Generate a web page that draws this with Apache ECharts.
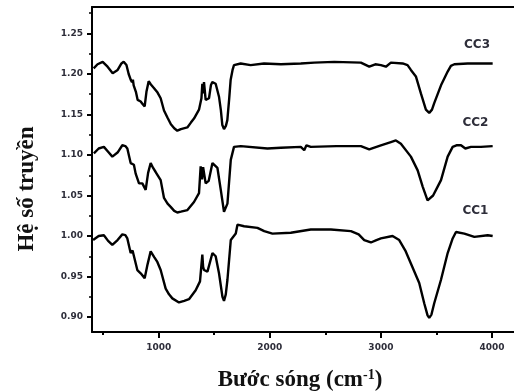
<!DOCTYPE html>
<html>
<head>
<meta charset="utf-8">
<script src="https://cdn.jsdelivr.net/npm/echarts@6/dist/echarts.min.js"></script>
<style>
  html, body { margin: 0; padding: 0; background: #fff; }
  #chart { width: 514px; height: 392px; }
</style>
</head>
<body>
<div id="chart"></div>
<script>
// wavenumber (cm-1), transmittance pairs
const cc3 = [
  [415,1.207],[450,1.212],[496,1.215],[540,1.209],[586,1.201],[631,1.205],[665,1.213],[685,1.215],
  [710,1.211],[730,1.200],[748,1.193],[760,1.190],[768,1.193],[775,1.186],[795,1.178],[811,1.168],
  [838,1.166],[855,1.163],[874,1.160],[890,1.178],[910,1.191],[930,1.187],[955,1.183],[990,1.177],
  [1018,1.170],[1048,1.155],[1080,1.146],[1110,1.138],[1140,1.133],[1168,1.130],[1200,1.132],
  [1258,1.134],[1290,1.140],[1318,1.145],[1363,1.156],[1385,1.170],[1393,1.188],[1400,1.176],
  [1408,1.190],[1423,1.168],[1453,1.170],[1470,1.186],[1483,1.190],[1513,1.188],[1543,1.172],
  [1560,1.155],[1573,1.137],[1588,1.132],[1605,1.136],[1618,1.143],[1635,1.170],[1648,1.193],
  [1665,1.205],[1678,1.211],[1738,1.213],[1828,1.211],[1948,1.213],[2100,1.212],[2279,1.213],
  [2400,1.214],[2580,1.215],[2820,1.214],[2895,1.209],[2950,1.212],[3000,1.211],[3045,1.209],
  [3090,1.214],[3196,1.213],[3240,1.211],[3270,1.205],[3315,1.197],[3360,1.176],[3405,1.156],
  [3435,1.152],[3460,1.156],[3480,1.164],[3541,1.186],[3601,1.203],[3630,1.210],[3661,1.212],
  [3781,1.213],[3900,1.213],[4006,1.213]
]
const cc2 = [
  [417,1.102],[460,1.108],[507,1.110],[545,1.104],[583,1.098],[630,1.103],[673,1.112],[700,1.111],
  [718,1.108],[748,1.090],[765,1.091],[777,1.088],[793,1.077],[823,1.065],[853,1.065],[883,1.057],
  [905,1.078],[928,1.090],[950,1.084],[973,1.079],[1018,1.069],[1048,1.047],[1080,1.040],
  [1108,1.036],[1140,1.031],[1168,1.029],[1200,1.030],[1259,1.032],[1318,1.042],[1363,1.053],
  [1378,1.086],[1390,1.070],[1400,1.085],[1423,1.065],[1450,1.068],[1484,1.090],[1529,1.084],
  [1559,1.057],[1588,1.030],[1619,1.040],[1649,1.094],[1678,1.110],[1739,1.111],[1979,1.108],
  [2100,1.109],[2279,1.110],[2310,1.106],[2330,1.112],[2369,1.110],[2600,1.111],[2820,1.111],
  [2895,1.107],[3000,1.112],[3090,1.116],[3135,1.118],[3180,1.114],[3270,1.098],[3331,1.081],
  [3376,1.061],[3420,1.044],[3435,1.042],[3470,1.050],[3511,1.061],[3541,1.069],[3601,1.098],
  [3646,1.110],[3680,1.112],[3721,1.112],[3760,1.108],[3811,1.110],[3900,1.110],[4006,1.111]
]
const cc1 = [
  [410,0.995],[460,1.000],[507,1.001],[545,0.994],[583,0.989],[630,0.995],[673,1.002],[700,1.001],
  [718,0.997],[748,0.979],[765,0.982],[777,0.981],[808,0.958],[838,0.954],[874,0.948],[900,0.965],
  [928,0.981],[960,0.974],[988,0.968],[1018,0.958],[1063,0.935],[1093,0.928],[1123,0.923],
  [1183,0.918],[1230,0.920],[1273,0.922],[1333,0.933],[1372,0.944],[1393,0.977],[1400,0.962],
  [1408,0.958],[1439,0.956],[1484,0.979],[1513,0.975],[1543,0.954],[1574,0.925],[1588,0.920],
  [1604,0.928],[1619,0.946],[1649,0.995],[1694,1.003],[1709,1.014],[1769,1.012],[1889,1.010],
  [1950,1.006],[2024,1.003],[2189,1.004],[2369,1.008],[2550,1.008],[2730,1.006],[2800,1.002],
  [2850,0.995],[2910,0.992],[2960,0.995],[3000,0.997],[3105,1.000],[3165,0.995],[3220,0.982],
  [3270,0.966],[3345,0.942],[3390,0.917],[3420,0.902],[3435,0.899],[3455,0.903],[3480,0.917],
  [3541,0.946],[3601,0.979],[3646,0.997],[3676,1.005],[3751,1.003],[3841,0.999],[3961,1.001],
  [4006,1.000]
]

const seriesNames = ['CC3', 'CC2', 'CC1']
const labelCoords = [[3865, 1.236], [3851, 1.140], [3851, 1.031]]

const xMajor = [1000, 2000, 3000, 4000]
const xMinor = [500, 1500, 2500, 3500]
const yMajor = [0.90, 0.95, 1.00, 1.05, 1.10, 1.15, 1.20, 1.25]
const yMinor = [0.925, 0.975, 1.025, 1.075, 1.125, 1.175, 1.225, 1.275]

const X_MIN = 400
const X_MAX = 4198
const Y_MIN = 0.8815
const Y_MAX = 1.2827

const tickFont = { fontFamily: 'DejaVu Sans', fontWeight: 'bold', fontSize: 9, color: '#2e2e3a' }
const axisLine = { show: true, lineStyle: { color: '#000', width: 2 } }

const chart = echarts.init(document.getElementById('chart'))

const makeSeries = (name, data, coord) => ({
  name,
  type: 'line',
  data,
  showSymbol: false,
  smooth: false,
  lineStyle: { color: '#000', width: 2.4 },
  markPoint: {
    symbol: 'circle',
    symbolSize: 1,
    itemStyle: { color: 'transparent' },
    label: {
      show: true,
      position: 'inside',
      formatter: name,
      fontFamily: 'DejaVu Sans',
      fontWeight: 'bold',
      fontSize: 12,
      color: '#2e2e3a',
    },
    data: [{ coord }],
  },
})

chart.setOption({
  animation: false,
  grid: {
    left: 92, top: 7, right: 0, bottom: 60,
    outerBoundsMode: 'none',
  },
  xAxis: [
    {
      type: 'value', min: X_MIN, max: X_MAX,
      axisLine,
      splitLine: { show: false },
      axisTick: { show: true, customValues: xMajor, length: 6, lineStyle: { width: 2, color: '#000' } },
      axisLabel: { customValues: xMajor, margin: 11, formatter: (v) => String(v), ...tickFont },
    },
    {
      type: 'value', min: X_MIN, max: X_MAX, position: 'bottom',
      axisLine: { show: false },
      splitLine: { show: false },
      axisTick: { show: true, customValues: xMinor, length: 3, lineStyle: { width: 2, color: '#000' } },
      axisLabel: { show: false },
    },
    {
      // top frame line
      type: 'value', min: X_MIN, max: X_MAX, position: 'top',
      axisLine,
      splitLine: { show: false },
      axisTick: { show: false },
      axisLabel: { show: false },
    },
  ],
  yAxis: [
    {
      type: 'value', min: Y_MIN, max: Y_MAX,
      axisLine,
      splitLine: { show: false },
      axisTick: { show: true, customValues: yMajor, length: 5, lineStyle: { width: 2, color: '#000' } },
      axisLabel: { customValues: yMajor, margin: 9, formatter: (v) => v.toFixed(2), ...tickFont },
    },
    {
      type: 'value', min: Y_MIN, max: Y_MAX, position: 'left',
      axisLine: { show: false },
      splitLine: { show: false },
      axisTick: { show: true, customValues: yMinor, length: 3, lineStyle: { width: 1.5, color: '#000' } },
      axisLabel: { show: false },
    },
  ],
  series: [
    makeSeries(seriesNames[0], cc3, labelCoords[0]),
    makeSeries(seriesNames[1], cc2, labelCoords[1]),
    makeSeries(seriesNames[2], cc1, labelCoords[2]),
  ],
  graphic: [
    {
      type: 'text',
      x: 27, y: 189,
      rotation: Math.PI / 2,
      style: {
        text: 'Hệ số truyền',
        font: 'bold 23px "Liberation Serif"',
        fill: '#111',
        align: 'center',
        verticalAlign: 'middle',
      },
    },
    {
      type: 'text',
      x: 300, y: 380,
      style: {
        text: 'Bước sóng (cm{sup|-1})',
        font: 'bold 23px "Liberation Serif"',
        fill: '#111',
        align: 'center',
        verticalAlign: 'middle',
        rich: {
          sup: { font: 'bold 14px "Liberation Serif"', fill: '#111', verticalAlign: 'top', padding: [0, 0, 8, 0] },
        },
      },
    },
  ],
})
</script>
</body>
</html>
